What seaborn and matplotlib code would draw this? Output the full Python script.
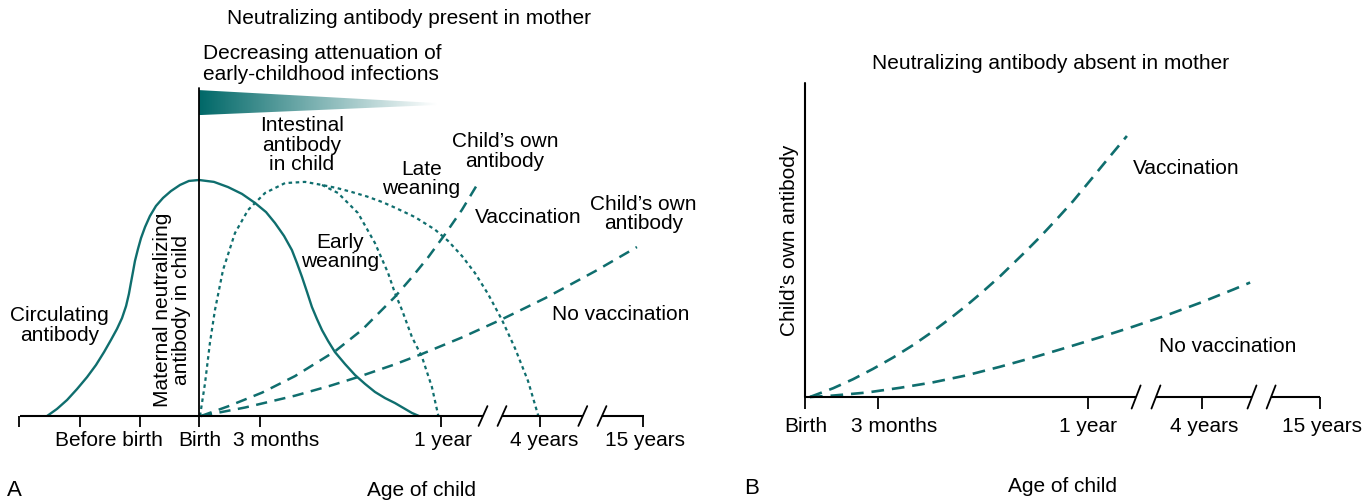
import numpy as np
import pandas as pd
import matplotlib
matplotlib.use("Agg")
import matplotlib.pyplot as plt
from matplotlib.colors import LinearSegmentedColormap
from matplotlib.patches import Polygon
import seaborn as sns

# Panel A : x = age in months (axis broken after 1 year), y = antibody level (% of maternal peak)
maternal_x = [-7.52, -7.03, -6.53, -6.04, -5.54, -5.10, -4.70, -4.36, -4.06, -3.81, -3.61, -3.47,
              -3.37, -3.27, -3.17, -3.02, -2.87, -2.67, -2.43, -2.13, -1.78, -1.39, -0.94, -0.50,
              0.0, 0.74, 1.44, 2.13, 2.77, 3.32, 3.76, 4.21, 4.60, 4.85, 5.10, 5.35, 5.59, 5.84,
              6.09, 6.39, 6.73, 7.23, 7.72, 8.22, 8.71, 9.21, 9.70, 10.20, 10.54, 10.89]
maternal_y = [0, 3.0, 6.8, 11.4, 16.5, 21.6, 27.1, 32.2, 36.9, 41.5, 46.6, 51.7,
              56.4, 61.0, 65.7, 70.8, 75.4, 80.1, 84.7, 89.0, 92.4, 95.3, 97.9, 99.6,
              100, 99.2, 97.0, 94.1, 90.3, 86.4, 81.8, 76.3, 70.3, 64.8, 58.9, 52.5, 46.2, 41.1,
              36.4, 31.8, 27.1, 22.0, 17.4, 13.6, 10.2, 7.6, 5.5, 3.0, 1.3, 0]

# intestinal antibody in child, continuing as late weaning (one dotted curve)
late_x = [0.05, 0.30, 0.54, 0.79, 1.19, 1.78, 2.43, 3.27, 4.26, 5.25, 6.09, 6.83, 7.57, 8.32,
          9.06, 9.70, 10.69, 11.68, 12.33, 13.02, 13.66, 14.31, 15.0, 15.64, 16.29, 16.80]
late_y = [0, 14.0, 30.9, 44.9, 61.9, 77.5, 87.3, 94.5, 98.7, 99.2, 97.9, 96.6, 94.9, 93.0,
          90.7, 88.3, 84.3, 79.0, 74.2, 67.8, 60.6, 51.7, 40.7, 28.8, 14.8, 0]
# early weaning branch
early_x = [6.09, 6.88, 7.87, 8.71, 9.36, 9.70, 10.05, 10.54, 11.04, 11.53, 11.85]
early_y = [97.9, 94.5, 86.0, 73.3, 60.6, 52.1, 44.9, 33.5, 25.0, 12.3, 0]

vacc_a_x = [0.1, 1.44, 3.12, 4.75, 6.73, 8.07, 9.70, 10.54, 11.34, 12.18, 13.02, 13.81]
vacc_a_y = [0, 4.1, 9.9, 16.9, 27.4, 36.5, 50.5, 58.8, 67.2, 77.0, 87.4, 98.6]
novacc_a_x = [0.1, 2.28, 4.75, 6.49, 7.87, 9.70, 11.04, 13.02, 15.0, 17.13, 19.6, 21.68]
novacc_a_y = [0, 3.6, 8.6, 12.8, 16.5, 21.9, 26.3, 33.3, 41.0, 49.9, 61.3, 71.6]

ticks_a = [-8.9, -5.9, -2.9, 0, 3, 12, 16.9, 22]
ticklab_a = ["Before birth", "Birth", "3 months", "1 year", "4 years", "15 years"]
ticklab_a_pos = [-4.46, 0.05, 3.8, 12.1, 17.1, 22.1]
breaks_a = [14.06, 15.0, 19.0, 19.95]

# Panel B
vacc_b_x = [0.21, 1.19, 2.03, 2.88, 3.73, 4.58, 5.42, 6.14, 6.86, 7.54, 8.26, 9.24, 9.96,
            10.68, 11.36, 12.08, 12.8, 13.64]
vacc_b_y = [0, 3.7, 7.5, 11.9, 16.7, 22.0, 27.8, 33.2, 38.9, 44.7, 51.1, 60.6, 67.8,
            75.5, 83.0, 91.7, 100.5, 110.6]
novacc_b_x = [0.21, 1.19, 2.63, 4.03, 5.42, 6.86, 8.26, 9.66, 11.10, 12.5, 13.9, 15.34,
              16.74, 18.14, 18.86]
novacc_b_y = [0, 0.6, 1.9, 3.9, 6.2, 9.2, 12.8, 16.7, 21.0, 25.3, 29.8, 34.7,
              39.9, 45.5, 48.5]

ticks_b = [0, 3.09, 11.99, 16.82, 21.82]
ticklab_b = ["Birth", "3 months", "1 year", "4 years", "15 years"]
ticklab_b_pos = [0.04, 3.77, 12.0, 16.9, 21.9]
breaks_b = [14.03, 14.87, 18.94, 19.75]

TEAL = "#0f6e6e"
FS = 15

sns.set_theme(style="white")
plt.rcParams["font.family"] = ["Liberation Sans", "DejaVu Sans"]
plt.rcParams["text.color"] = "black"

fig = plt.figure(figsize=(13.72, 5.03), dpi=100)
ax_a = fig.add_axes([0, 0, 700 / 1372, 1])
ax_b = fig.add_axes([700 / 1372, 0, 672 / 1372, 1])


def draw_curve(ax, xs, ys, style, lw):
    df = pd.DataFrame({"x": xs, "y": ys})
    sns.lineplot(data=df, x="x", y="y", ax=ax, color=TEAL, sort=False,
                 estimator=None, linewidth=lw)
    line = ax.get_lines()[-1]
    line.set_linestyle(style)
    line.set_solid_joinstyle("round")
    line.set_solid_capstyle("butt")
    line.set_dash_capstyle("butt")


def draw_axis(ax, segs, ticks, tick_len, breaks, bdx, bdy):
    for x0, x1 in segs:
        ax.plot([x0, x1], [0, 0], color="black", lw=1.5, solid_capstyle="butt")
    ax.vlines(ticks, -tick_len, 0, color="black", lw=1.3)
    for b in breaks:
        ax.plot([b - bdx, b + bdx], [-bdy, bdy], color="black", lw=1.3)


# ---------------- Panel A ----------------
draw_curve(ax_a, maternal_x, maternal_y, "-", 1.7)
draw_curve(ax_a, late_x, late_y, (0, (1.6, 1.6)), 1.6)
draw_curve(ax_a, early_x, early_y, (0, (1.6, 1.6)), 1.6)
draw_curve(ax_a, vacc_a_x, vacc_a_y, (0, (4.5, 3)), 1.8)
draw_curve(ax_a, novacc_a_x, novacc_a_y, (0, (4.5, 3)), 1.8)

draw_axis(ax_a, [(-8.86, 14.06), (15.0, 19.0), (19.95, 22.03)], ticks_a, 4.7,
          breaks_a, 0.22, 4.2)
ax_a.plot([0, 0], [0, 139], color="black", lw=1.3)

# gradient flag
flag = Polygon([[0, 138.1], [11.78, 132.6], [11.78, 131.8], [0, 127.5]],
               closed=True, facecolor="none", edgecolor="none")
ax_a.add_patch(flag)
cmap = LinearSegmentedColormap.from_list("flag", ["#006868", "#ffffff"])
grad = np.linspace(0, 1, 256).reshape(1, -1)
im = ax_a.imshow(grad, extent=[0, 11.78, 127.5, 138.1], aspect="auto",
                 cmap=cmap, origin="lower", interpolation="bilinear")
im.set_clip_path(flag)

ax_a.text(10.4, 168.6, "Neutralizing antibody present in mother", ha="center", va="center", fontsize=FS)
ax_a.text(0.2, 149.2, "Decreasing attenuation of\nearly-childhood infections", ha="left",
          va="center", fontsize=FS, linespacing=1.1)
ax_a.text(5.1, 114.8, "Intestinal\nantibody\nin child", ha="center", va="center", fontsize=FS, linespacing=1.05)
ax_a.text(15.15, 112.1, "Child\u2019s own\nantibody", ha="center", va="center", fontsize=FS, linespacing=1.05)
ax_a.text(11.0, 100.4, "Late\nweaning", ha="center", va="center", fontsize=FS, linespacing=1.0)
ax_a.text(16.3, 83.9, "Vaccination", ha="center", va="center", fontsize=FS)
ax_a.text(22.0, 85.6, "Child\u2019s own\nantibody", ha="center", va="center", fontsize=FS, linespacing=1.05)
ax_a.text(7.0, 69.7, "Early\nweaning", ha="center", va="center", fontsize=FS, linespacing=1.0)
ax_a.text(20.9, 42.8, "No vaccination", ha="center", va="center", fontsize=FS)
ax_a.text(-6.9, 38.3, "Circulating\nantibody", ha="center", va="center", fontsize=FS, linespacing=1.05)
ax_a.text(-1.34, 45, "Maternal neutralizing\nantibody in child", ha="center", va="center",
          rotation=90, fontsize=FS, linespacing=1.0)
for pos, lab in zip(ticklab_a_pos, ticklab_a):
    ax_a.text(pos, -10.2, lab, ha="center", va="center", fontsize=FS)
ax_a.text(-9.5, -31.4, "A", ha="left", va="center", fontsize=FS + 1)
ax_a.text(11.0, -31.4, "Age of child", ha="center", va="center", fontsize=FS)

ax_a.set_xlim(-9.851, 24.802)
ax_a.set_ylim(-36.86, 176.27)
ax_a.set_axis_off()

# ---------------- Panel B ----------------
draw_curve(ax_b, vacc_b_x, vacc_b_y, (0, (4.8, 3)), 1.9)
draw_curve(ax_b, novacc_b_x, novacc_b_y, (0, (4.8, 3)), 1.9)

draw_axis(ax_b, [(0, 14.03), (14.87, 18.94), (19.75, 21.82)], ticks_b, 5.1,
          breaks_b, 0.19, 4.9)
ax_b.plot([0, 0], [0, 133], color="black", lw=1.5)

ax_b.text(10.4, 141.5, "Neutralizing antibody absent in mother", ha="center", va="center", fontsize=FS)
ax_b.text(-0.64, 66.5, "Child\u2019s own antibody", ha="center", va="center", rotation=90, fontsize=FS)
ax_b.text(16.15, 97.0, "Vaccination", ha="center", va="center", fontsize=FS)
ax_b.text(17.9, 21.2, "No vaccination", ha="center", va="center", fontsize=FS)
for pos, lab in zip(ticklab_b_pos, ticklab_b):
    ax_b.text(pos, -12.7, lab, ha="center", va="center", fontsize=FS)
ax_b.text(-2.6, -38.6, "B", ha="left", va="center", fontsize=FS + 1)
ax_b.text(10.9, -38.1, "Age of child", ha="center", va="center", fontsize=FS)

ax_b.set_xlim(-4.449, 24.025)
ax_b.set_ylim(-44.92, 168.22)
ax_b.set_axis_off()

fig.savefig("out.png", dpi=100)
